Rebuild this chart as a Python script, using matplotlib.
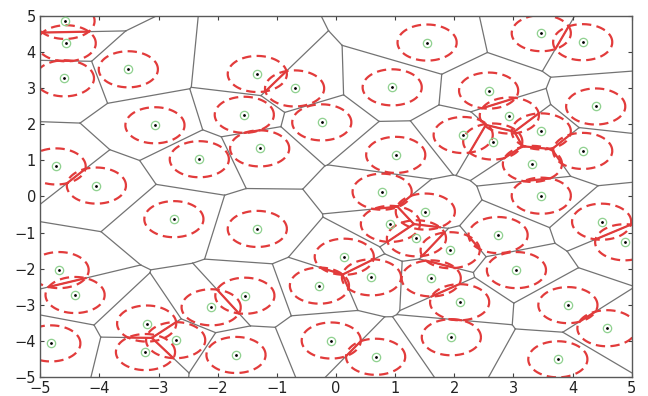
import numpy as np
import matplotlib
matplotlib.use("Agg")
import matplotlib.pyplot as plt
import matplotlib.tri as mtri

# site positions
px = np.array([-4.58, -4.56, -4.59, -3.51, -3.06, -4.73, -4.05, -2.31, -1.33, -0.70,
               -1.55, -0.24, -1.29, 0.95, 1.01, 0.78, 1.54, 3.47, 4.17, 2.58,
               4.39, 2.93, 3.47, 2.15, 2.65, 3.32, 4.17, 3.47, 4.49, 4.88,
               2.74, 3.05, 1.93, 1.51, 1.61, 2.09, 1.95, 3.92, 4.58, 3.75,
               -1.33, 0.14, 0.60, -0.28, -1.54, -2.11, -0.08, 0.67, -1.69, 0.92,
               1.36, -2.74, -4.68, -4.41, -4.82, -3.20, -3.22, -2.71])
py = np.array([4.86, 4.24, 3.27, 3.52, 1.97, 0.83, 0.30, 1.03, 3.39, 2.99,
               2.26, 2.05, 1.33, 3.02, 1.15, 0.13, 4.26, 4.52, 4.27, 2.93,
               2.49, 2.24, 1.80, 1.70, 1.52, 0.90, 1.26, 0.02, -0.70, -1.27,
               -1.07, -2.04, -1.49, -0.42, -2.27, -2.93, -3.90, -3.01, -3.65, -4.51,
               -0.90, -1.67, -2.24, -2.47, -2.75, -3.07, -3.99, -4.44, -4.39, -0.76,
               -1.16, -0.63, -2.04, -2.73, -4.07, -3.52, -4.31, -3.98])
radius = 0.5

pts = np.column_stack([px, py])
tri = mtri.Triangulation(px, py)
T = tri.triangles
NB = tri.neighbors


def circumcenter(a, b, c):
    d = 2 * (a[0] * (b[1] - c[1]) + b[0] * (c[1] - a[1]) + c[0] * (a[1] - b[1]))
    ux = ((a @ a) * (b[1] - c[1]) + (b @ b) * (c[1] - a[1]) + (c @ c) * (a[1] - b[1])) / d
    uy = ((a @ a) * (c[0] - b[0]) + (b @ b) * (a[0] - c[0]) + (c @ c) * (b[0] - a[0])) / d
    return np.array([ux, uy])


cc = np.array([circumcenter(*pts[t]) for t in T])

# voronoi edges: (site i, site j, start, end)
edges = []
for k, t in enumerate(T):
    for e in range(3):
        i, j, opp = t[e], t[(e + 1) % 3], t[(e + 2) % 3]
        nb = NB[k, e]
        if nb == -1:
            mid = (pts[i] + pts[j]) / 2
            v = pts[j] - pts[i]
            n = np.array([v[1], -v[0]])
            if np.dot(n, mid - pts[opp]) < 0:
                n = -n
            n = n / np.linalg.norm(n)
            edges.append((i, j, cc[k], cc[k] + 60 * n))
        elif nb > k:
            edges.append((i, j, cc[k], cc[nb]))

fig = plt.figure(figsize=(6.48, 3.96), dpi=100)
ax = fig.add_axes([0.062, 0.048, 0.913, 0.912])

for i, j, s, f in edges:
    ax.plot([s[0], f[0]], [s[1], f[1]], color="0.45", lw=0.9, zorder=1)

th = np.linspace(0, 2 * np.pi, 240)
for x, y in zip(px, py):
    ax.plot(x + radius * np.cos(th), y + radius * np.sin(th), color="#e23b3b",
            lw=1.6, ls=(0, (4.2, 2.4)), zorder=2)

# common chord of overlapping circles, kept on the voronoi edge
for i, j, s, f in edges:
    d = np.linalg.norm(pts[j] - pts[i])
    if d >= 2 * radius:
        continue
    m = (pts[i] + pts[j]) / 2
    u = (f - s) / np.linalg.norm(f - s)
    h = np.sqrt(radius ** 2 - (d / 2) ** 2)
    t1, t2 = np.dot(s - m, u), np.dot(f - m, u)
    lo, hi = max(-h, min(t1, t2)), min(h, max(t1, t2))
    if hi > lo:
        a, b = m + lo * u, m + hi * u
        ax.plot([a[0], b[0]], [a[1], b[1]], color="#e23b3b", lw=1.6, zorder=3)

ax.plot(px, py, "o", mfc="none", mec="#8fd18f", ms=6, mew=0.9, zorder=4)
ax.plot(px, py, ".", color="black", ms=2, zorder=5)

ax.set_xlim(-5, 5)
ax.set_ylim(-5, 5)
ax.set_xticks(np.arange(-5, 6))
ax.set_yticks(np.arange(-5, 6))
ax.tick_params(direction="in", top=True, right=True, length=3, width=0.8,
               labelsize=10.5, colors="0.25", labelcolor="#222222", pad=3)
for sp in ax.spines.values():
    sp.set_color("0.35")
    sp.set_linewidth(1.0)

plt.savefig("out.png", dpi=100)
